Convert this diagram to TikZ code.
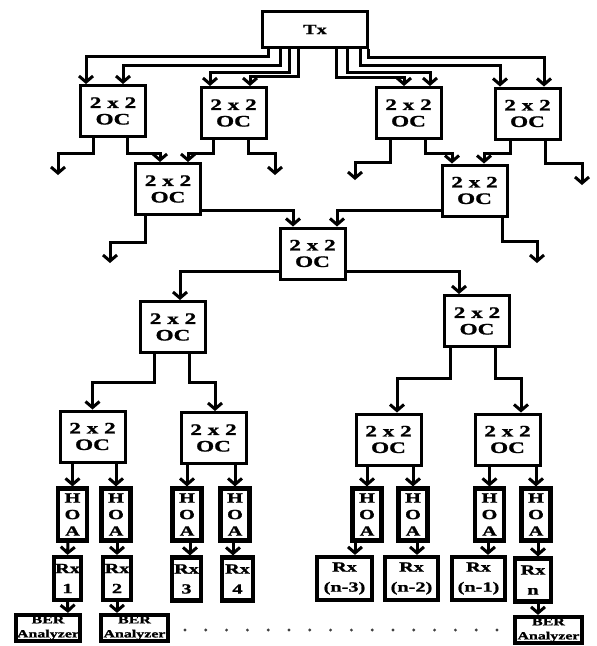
\documentclass[tikz,border=0pt]{standalone}
\usepackage{fontspec}
\setmainfont{Liberation Serif}[FakeStretch=1.45,FakeBold=1.2]
\usetikzlibrary{arrows.meta}
\begin{document}
\begin{tikzpicture}[x=1pt,y=-1pt,
  box/.style={draw, inner sep=0pt, align=center},
  oc/.style={box, line width=3pt, minimum width=65pt, minimum height=51pt,
     font=\fontsize{16}{16.5}\selectfont\bfseries},
  txbox/.style={box, line width=3pt, minimum width=105pt, minimum height=36pt,
     font=\fontsize{14}{16}\selectfont\bfseries},
  hoa/.style={box, line width=4.2pt, minimum width=29pt, minimum height=52pt,
     font=\fontsize{14}{16.5}\selectfont\bfseries},
  rx/.style={box, line width=4.2pt, minimum height=43pt,
     font=\fontsize{14}{20}\selectfont\bfseries},
  ber/.style={box, line width=4.2pt, minimum height=26pt,
     font=\fontsize{11}{14}\selectfont\bfseries},
  arr/.style={line width=3pt, -{Straight Barb[length=6pt,width=14pt]}}]
\useasboundingbox (0,0) rectangle (597,646);

% nodes
\node[txbox] (tx) at (315,29.5) {Tx};
\node[oc] (oc1) at (113,111) {2 x 2\\OC};
\node[oc] (oc2) at (233.5,113) {2 x 2\\OC};
\node[oc] (oc3) at (408.5,113) {2 x 2\\OC};
\node[oc] (oc4) at (527.5,113.5) {2 x 2\\OC};
\node[oc] (oc5) at (168,189) {2 x 2\\OC};
\node[oc] (oc6) at (474.5,190.5) {2 x 2\\OC};
\node[oc] (oc7) at (312.5,253.5) {2 x 2\\OC};
\node[oc] (oc8) at (173,327) {2 x 2\\OC};
\node[oc] (oc9) at (477,321) {2 x 2\\OC};
\node[oc] (oc10) at (92.5,436.5) {2 x 2\\OC};
\node[oc] (oc11) at (213.5,438) {2 x 2\\OC};
\node[oc] (oc12) at (388.5,439.5) {2 x 2\\OC};
\node[oc] (oc13) at (507.5,439.5) {2 x 2\\OC};

\node[hoa] (h1) at (72.5,514.5) {H\\O\\A};
\node[hoa] (h2) at (116,514.5) {H\\O\\A};
\node[hoa] (h3) at (187,514.5) {H\\O\\A};
\node[hoa] (h4) at (235,514.5) {H\\O\\A};
\node[hoa] (h5) at (367,514.5) {H\\O\\A};
\node[hoa] (h6) at (413,514.5) {H\\O\\A};
\node[hoa] (h7) at (489.5,514.5) {H\\O\\A};
\node[hoa] (h8) at (536,514.5) {H\\O\\A};

\node[rx, minimum width=27pt] (r1) at (67.5,578.5) {Rx\\1};
\node[rx, minimum width=28pt] (r2) at (117,578.5) {Rx\\2};
\node[rx, minimum width=29pt] (r3) at (186.5,579) {Rx\\3};
\node[rx, minimum width=31pt] (r4) at (237.5,579) {Rx\\4};
\node[rx, minimum width=55pt] (r5) at (344.5,578.5) {Rx\\(n-3)};
\node[rx, minimum width=53pt] (r6) at (411.5,578.5) {Rx\\(n-2)};
\node[rx, minimum width=53pt] (r7) at (478.5,578.5) {Rx\\(n-1)};
\node[rx, minimum width=36pt] (r8) at (533,580) {Rx\\n};

\node[ber, minimum width=64pt] (b1) at (48,628) {BER\\Analyzer};
\node[ber, minimum width=67pt] (b2) at (134.5,628) {BER\\Analyzer};
\node[ber, minimum width=67pt] (b3) at (548.5,630) {BER\\Analyzer};

% free ends
\coordinate (f1) at (58,175);
\coordinate (f2) at (275,175);
\coordinate (f3) at (355,180);
\coordinate (f4) at (582,185);
\coordinate (f5) at (110,263);
\coordinate (f6) at (537,263);

% Tx fan-out
\draw[arr] ([xshift=-47pt]tx.south) -- ++(0,7) -| ([xshift=-27pt]oc1.north);
\draw[arr] ([xshift=-35pt]tx.south) -- ++(0,16) -| ([xshift=10pt]oc1.north);
\draw[arr] ([xshift=-26pt]tx.south) -- ++(0,23) -| ([xshift=-23.5pt]oc2.north);
\draw[arr] ([xshift=-17pt]tx.south) -- ++(0,27) -| ([xshift=16.5pt]oc2.north);
\draw[arr] ([xshift=21pt]tx.south) -- ++(0,28) -| ([xshift=-4.5pt]oc3.north);
\draw[arr] ([xshift=32pt]tx.south) -- ++(0,23) -| ([xshift=21.5pt]oc3.north);
\draw[arr] ([xshift=45pt]tx.south) -- ++(0,16) -| ([xshift=-27.5pt]oc4.north);
\draw[arr] ([xshift=53pt]tx.south) -- ++(0,8) -| ([xshift=16.5pt]oc4.north);

% row 1 outputs
\draw[arr] ([xshift=-20pt]oc1.south) -- ++(0,15) -| (f1);
\draw[arr] ([xshift=14pt]oc1.south) -- ++(0,15) -| ([xshift=-8pt]oc5.north);
\draw[arr] ([xshift=-20.5pt]oc2.south) -- ++(0,13) -| ([xshift=20pt]oc5.north);
\draw[arr] ([xshift=14.5pt]oc2.south) -- ++(0,13) -| (f2);
\draw[arr] ([xshift=-18.5pt]oc3.south) -- ++(0,22) -| (f3);
\draw[arr] ([xshift=16.5pt]oc3.south) -- ++(0,13) -| ([xshift=-22.5pt]oc6.north);
\draw[arr] ([xshift=-17.5pt]oc4.south) -- ++(0,13) -| ([xshift=9.5pt]oc6.north);
\draw[arr] ([xshift=17.5pt]oc4.south) -- ++(0,23) -| (f4);

% row 2 outputs
\draw[arr] ([yshift=-21pt]oc5.east) -| ([xshift=-19.5pt]oc7.north);
\draw[arr] ([xshift=-23pt]oc5.south) -- ++(0,26) -| (f5);
\draw[arr] ([yshift=-19.5pt]oc6.west) -| ([xshift=24.5pt]oc7.north);
\draw[arr] ([xshift=27.5pt]oc6.south) -- ++(0,24) -| (f6);

% central coupler
\draw[arr] ([yshift=-17.5pt]oc7.west) -| ([xshift=7pt]oc8.north);
\draw[arr] ([yshift=-17.5pt]oc7.east) -| ([xshift=-18pt]oc9.north);

% row 3 outputs
\draw[arr] ([xshift=-19pt]oc8.south) -- ++(0,28) -| (oc10.north);
\draw[arr] ([xshift=16pt]oc8.south) -- ++(0,28) -| ([xshift=1.5pt]oc11.north);
\draw[arr] ([xshift=-27pt]oc9.south) -- ++(0,30) -| ([xshift=8.5pt]oc12.north);
\draw[arr] ([xshift=18pt]oc9.south) -- ++(0,30) -| ([xshift=13.5pt]oc13.north);

% OC -> HOA
\foreach \o/\h in {oc10/h1,oc10/h2,oc11/h3,oc11/h4,oc12/h5,oc12/h6,oc13/h7,oc13/h8}
  \draw[arr] (\o.south -| \h.north) -- (\h.north);

% HOA -> Rx
\draw[arr] ([xshift=-4.5pt]h1.south) -- (r1.north);
\draw[arr] ([xshift=1pt]h2.south) -- (r2.north);
\draw[arr] ([xshift=3pt]h3.south) -- ([xshift=3.5pt]r3.north);
\draw[arr] ([xshift=-2pt]h4.south) -- ([xshift=-4.5pt]r4.north);
\draw[arr] ([xshift=-12pt]h5.south) -- ([xshift=10.5pt]r5.north);
\draw[arr] ([xshift=4pt]h6.south) -- ([xshift=5.5pt]r6.north);
\draw[arr] ([xshift=-1.5pt]h7.south) -- ([xshift=9.5pt]r7.north);
\draw[arr] ([xshift=2pt]h8.south) -- ([xshift=5pt]r8.north);

% Rx -> BER
\draw[arr] (r1.south) -- ([xshift=20pt]b1.north);
\draw[arr] (r2.south) -- ([xshift=-17.5pt]b2.north);
\draw[arr] ([xshift=5pt]r8.south) -- ([xshift=-10.5pt]b3.north);

% dots
\foreach \i in {0,...,15}
  \fill[black!75] (185+\i*20.8,630) circle (1.6pt);
\end{tikzpicture}
\end{document}
